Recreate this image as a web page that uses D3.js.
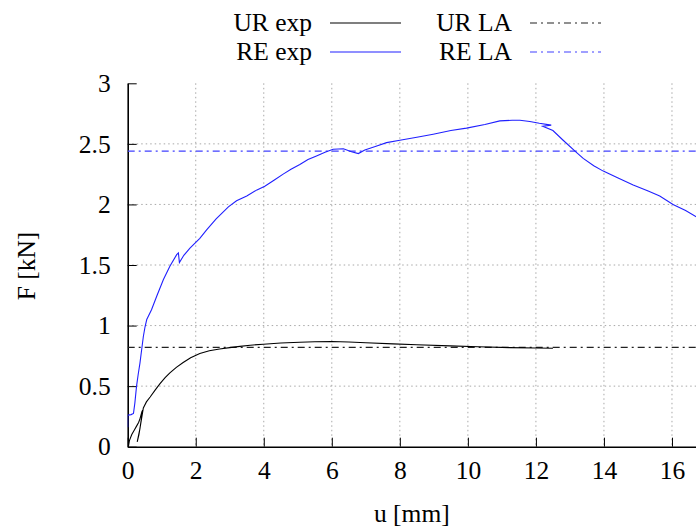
<!doctype html>
<html lang="en">
<head>
<meta charset="utf-8">
<title>F-u</title>
<script src="https://cdn.jsdelivr.net/npm/d3@7"></script>
<style>
  body { margin: 0; background: #fff; }
  svg text { font-family: "Liberation Serif", "Times New Roman", serif; font-size: 25.5px; fill: #000; }
</style>
</head>
<body>
<svg id="chart" width="696" height="527"></svg>
<script>
// measured curves (u [mm], F [kN])
var reExp = [
  [0, 0.16], [0, 0.26], [0.1, 0.265], [0.17, 0.275], [0.21, 0.36], [0.26, 0.5],
  [0.31, 0.6], [0.36, 0.69], [0.41, 0.8], [0.46, 0.91], [0.51, 0.99], [0.56, 1.05],
  [0.7, 1.13], [0.85, 1.24], [1.05, 1.38], [1.24, 1.49], [1.44, 1.585],
  [1.49, 1.6], [1.52, 1.52], [1.65, 1.58], [1.83, 1.64], [2.12, 1.72],
  [2.32, 1.79], [2.6, 1.88], [2.96, 1.98], [3.2, 2.03], [3.5, 2.07],
  [3.8, 2.12], [4.03, 2.15], [4.3, 2.2], [4.57, 2.25], [4.8, 2.29], [5.06, 2.33],
  [5.3, 2.37], [5.55, 2.4], [5.8, 2.43], [6.04, 2.455], [6.34, 2.46], [6.58, 2.435],
  [6.78, 2.42], [6.97, 2.45], [7.3, 2.48], [7.61, 2.51], [8.0, 2.53], [8.5, 2.555],
  [8.98, 2.58], [9.5, 2.61], [9.96, 2.63], [10.5, 2.66], [10.94, 2.69], [11.3, 2.695],
  [11.53, 2.695], [11.82, 2.685], [12.1, 2.67], [12.45, 2.655], [12.2, 2.645],
  [12.5, 2.61], [12.8, 2.53], [13.19, 2.43], [13.39, 2.38], [13.7, 2.32], [13.98, 2.275],
  [14.4, 2.22], [14.86, 2.16], [15.3, 2.11], [15.64, 2.07], [16.03, 2.0], [16.4, 1.95],
  [16.7, 1.9], [16.9, 1.87]
];
var urExp = [
  [0.02, 0], [0.05, 0.05], [0.12, 0.1], [0.2, 0.14], [0.26, 0.17], [0.32, 0.2],
  [0.36, 0.23], [0.42, 0.29], [0.44, 0.3], [0.36, 0.15], [0.28, 0.04], [0.33, 0.1],
  [0.4, 0.22], [0.46, 0.32], [0.55, 0.37], [0.66, 0.41], [0.8, 0.465], [0.95, 0.52],
  [1.1, 0.57], [1.24, 0.61], [1.43, 0.655], [1.63, 0.695], [1.85, 0.735], [2.12, 0.77],
  [2.4, 0.792], [2.7, 0.806], [3.0, 0.818], [3.3, 0.828], [3.6, 0.838], [3.99, 0.846],
  [4.5, 0.856], [5.06, 0.862], [5.5, 0.866], [6.0, 0.868], [6.5, 0.864], [7.0, 0.858],
  [7.8, 0.849], [8.5, 0.842], [9.47, 0.832], [10.3, 0.825], [11.23, 0.818],
  [12.0, 0.815], [12.5, 0.813]
];
// limit analysis levels
var urLA = 0.82;
var reLA = 2.44;

var xTicks = [0, 2, 4, 6, 8, 10, 12, 14, 16];
var yTicks = [0, 0.5, 1, 1.5, 2, 2.5, 3];
var legendRows = [
  { label: "UR exp", color: "#000", dash: null },
  { label: "RE exp", color: "#2020ff", dash: null },
  { label: "UR LA", color: "#222", dash: "7,4,2,4" },
  { label: "RE LA", color: "#4040ff", dash: "7,4,2,4" }
];

var svg = d3.select("#chart");
var pL = 127.7, pR = 706, pT = 83.3, pB = 446.7;

var x = d3.scaleLinear().domain([0, 17]).range([pL, pR]);
var y = d3.scaleLinear().domain([0, 3]).range([pB, pT]);

svg.append("clipPath").attr("id", "plot")
  .append("rect").attr("x", pL).attr("y", pT)
  .attr("width", pR - pL).attr("height", pB - pT);

// grid
var grid = svg.append("g").attr("stroke", "#a8a8a8").attr("stroke-width", 1)
  .attr("stroke-dasharray", "1.5,3");
grid.selectAll(".gx").data(xTicks.slice(1)).enter().append("line")
  .attr("x1", d => x(d)).attr("x2", d => x(d)).attr("y1", pT).attr("y2", pB);
grid.selectAll(".gy").data(yTicks.slice(1, -1)).enter().append("line")
  .attr("x1", pL).attr("x2", pR).attr("y1", d => y(d)).attr("y2", d => y(d));

// axes, gnuplot style ticks pointing inward
var xAxis = svg.append("g").attr("transform", "translate(0," + pB + ")")
  .call(d3.axisBottom(x).tickValues(xTicks).tickFormat(d3.format("~g"))
    .tickSizeInner(-9).tickSizeOuter(0).tickPadding(14));
var yAxis = svg.append("g").attr("transform", "translate(" + pL + ",0)")
  .call(d3.axisLeft(y).tickValues(yTicks).tickFormat(d3.format("~g"))
    .tickSizeInner(-9).tickSizeOuter(0).tickPadding(17));
[xAxis, yAxis].forEach(function(a) {
  a.attr("font-family", null).attr("font-size", null);
  a.select(".domain").attr("stroke", "#000").attr("stroke-width", 1.6);
  a.selectAll(".tick line").attr("stroke", "#000").attr("stroke-width", 1);
});
xAxis.selectAll(".tick text").attr("y", 14).attr("dy", "0.71em");

// limit analysis lines
var plot = svg.append("g").attr("clip-path", "url(#plot)");
plot.append("line").attr("x1", pL).attr("x2", pR)
  .attr("y1", y(urLA)).attr("y2", y(urLA))
  .attr("stroke", legendRows[2].color).attr("stroke-width", 1.2)
  .attr("stroke-dasharray", legendRows[2].dash);
plot.append("line").attr("x1", pL).attr("x2", pR)
  .attr("y1", y(reLA)).attr("y2", y(reLA))
  .attr("stroke", legendRows[3].color).attr("stroke-width", 1.2)
  .attr("stroke-dasharray", legendRows[3].dash);

var line = d3.line().x(d => x(d[0])).y(d => y(d[1]));
plot.append("path").datum(urExp).attr("d", line)
  .attr("fill", "none").attr("stroke", legendRows[0].color).attr("stroke-width", 1.1);
plot.append("path").datum(reExp).attr("d", line)
  .attr("fill", "none").attr("stroke", legendRows[1].color).attr("stroke-width", 1.1);

// axis labels
svg.append("text").attr("x", (pL + 696) / 2).attr("y", 522)
  .attr("text-anchor", "middle").text("u [mm]");
svg.append("text").attr("transform", "translate(35,266) rotate(-90)")
  .attr("text-anchor", "middle").text("F [kN]");

// legend, two columns
var key = svg.append("g");
legendRows.forEach(function(r, i) {
  var col = Math.floor(i / 2), row = i % 2;
  var tx = col ? 512 : 312, ly = row ? 52 : 23;
  key.append("text").attr("x", tx).attr("y", ly).attr("dy", "0.33em")
    .attr("text-anchor", "end").text(r.label);
  key.append("line").attr("x1", tx + 18).attr("x2", tx + 89)
    .attr("y1", ly).attr("y2", ly)
    .attr("stroke", r.color).attr("stroke-width", 1.1)
    .attr("stroke-dasharray", r.dash);
});
</script>
</body>
</html>
